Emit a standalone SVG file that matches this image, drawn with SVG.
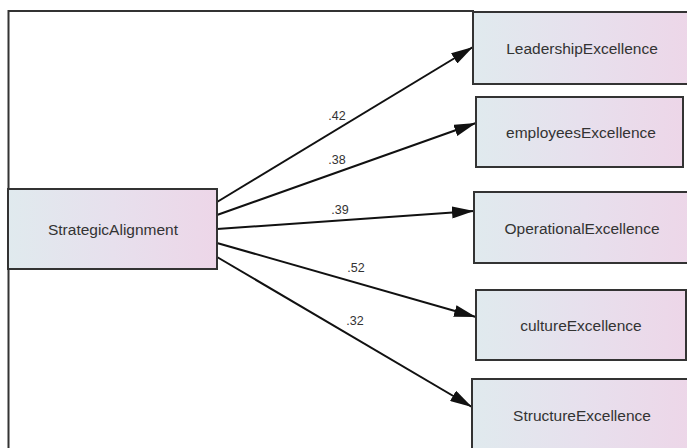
<svg xmlns="http://www.w3.org/2000/svg" width="687" height="448" viewBox="0 0 687 448">
  <defs>
    <linearGradient id="boxFill" x1="0" y1="0" x2="1" y2="0">
      <stop offset="0" stop-color="#e0eaee"/>
      <stop offset="0.5" stop-color="#e7e0ed"/>
      <stop offset="1" stop-color="#edd6e8"/>
    </linearGradient>
    <marker id="arrow" viewBox="0 0 22 12" refX="22" refY="6" markerWidth="22" markerHeight="12" markerUnits="userSpaceOnUse" orient="auto">
      <path d="M0,0 L22,6 L0,12 Z" fill="#111"/>
    </marker>
    <style>
      .node rect { fill: url(#boxFill); stroke: #333; stroke-width: 2; }
      .node text { font-family: "Liberation Sans", Arial, sans-serif; font-size: 15.5px; fill: #333; text-anchor: middle; dominant-baseline: central; }
      .edge { stroke: #111; stroke-width: 2; fill: none; marker-end: url(#arrow); }
      .weight { font-family: "Liberation Sans", Arial, sans-serif; font-size: 12.5px; fill: #333; text-anchor: middle; }
      .frame { stroke: #333; stroke-width: 2; fill: none; }
    </style>
  </defs>

  <rect width="687" height="448" fill="#ffffff"/>

  <!-- outer frame edges -->
  <path class="frame" d="M8.5,448 L8.5,11 L474,11"/>

  <!-- paths with standardized weights -->
  <g id="connectors">
    <line class="edge" x1="217" y1="202" x2="473" y2="47"/>
    <line class="edge" x1="217" y1="215" x2="476" y2="123"/>
    <line class="edge" x1="217" y1="229" x2="474" y2="211"/>
    <line class="edge" x1="217" y1="243" x2="476" y2="317"/>
    <line class="edge" x1="217" y1="257" x2="472" y2="407"/>
    <text class="weight" x="337" y="120">.42</text>
    <text class="weight" x="337" y="164">.38</text>
    <text class="weight" x="340" y="214">.39</text>
    <text class="weight" x="356" y="272">.52</text>
    <text class="weight" x="355" y="325">.32</text>
  </g>

  <g id="StrategicAlignment" class="node">
    <rect x="8" y="189" width="209" height="80"/>
    <text x="113" y="229">StrategicAlignment</text>
  </g>

  <g id="LeadershipExcellence" class="node">
    <rect x="473" y="12" width="220" height="72"/>
    <text x="582" y="48">LeadershipExcellence</text>
  </g>

  <g id="employeesExcellence" class="node">
    <rect x="476" y="97" width="207" height="70"/>
    <text x="581" y="132">employeesExcellence</text>
  </g>

  <g id="OperationalExcellence" class="node">
    <rect x="474" y="192" width="220" height="71"/>
    <text x="582" y="228">OperationalExcellence</text>
  </g>

  <g id="cultureExcellence" class="node">
    <rect x="476" y="290" width="210" height="70"/>
    <text x="581" y="325">cultureExcellence</text>
  </g>

  <g id="StructureExcellence" class="node">
    <rect x="472" y="379" width="222" height="80"/>
    <text x="582" y="415">StructureExcellence</text>
  </g>
</svg>
